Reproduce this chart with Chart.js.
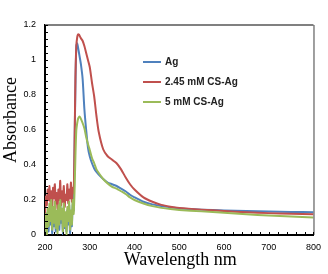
<!DOCTYPE html>
<html>
<head>
<meta charset="utf-8">
<script src="https://cdn.jsdelivr.net/npm/chart.js@4.4.0/dist/chart.umd.min.js"></script>
<style>
  html, body { margin: 0; padding: 0; background: #fff; }
  #wrap { width: 328px; height: 274px; }
</style>
</head>
<body>
<div id="wrap"><canvas id="uvChart"></canvas></div>
<script>
// wavelengths (nm)
var wavelengths = [200,202,204,206,208,210,212,214,216,218,220,222,224,226,228,230,232,234,236,238,240,242,244,246,248,250,252,254,256,258,260,262,264,
  266,268,270,272,274,276,278,280,284,288,292,296,300,305,310,315,320,330,340,350,360,370,380,390,400,420,440,460,480,500,550,600,650,700,750,800];

var agValues = [0.0,0.1,0.03,0.13,0.02,0.15,0.06,0.17,0.01,0.14,0.05,0.16,0.02,0.12,0.04,0.15,0.03,0.18,0.07,0.13,0.0,0.16,0.04,0.11,0.02,0.14,0.06,0.17,0.01,0.12,0.05,0.18,0.14,
  0.5,0.85,1.08,1.095,1.07,1.04,1.01,0.98,0.895,0.72,0.6,0.5,0.45,0.41,0.38,0.36,0.345,0.32,0.30,0.29,0.28,0.265,0.25,0.23,0.215,0.19,0.175,0.165,0.158,0.152,0.145,0.14,0.137,0.134,0.132,0.13];

var cs245Values = [0.12,0.22,0.17,0.26,0.2,0.28,0.19,0.25,0.16,0.27,0.21,0.29,0.18,0.24,0.15,0.26,0.2,0.31,0.17,0.25,0.19,0.28,0.16,0.23,0.2,0.29,0.18,0.26,0.21,0.3,0.19,0.27,0.24,
  0.5,0.9,1.08,1.13,1.147,1.145,1.135,1.125,1.11,1.08,1.04,1.0,0.96,0.87,0.79,0.68,0.59,0.49,0.45,0.43,0.41,0.375,0.33,0.29,0.26,0.215,0.19,0.172,0.162,0.155,0.145,0.137,0.13,0.125,0.121,0.118];

var cs5Values = [0.02,0.12,0.0,0.15,0.05,0.18,0.08,0.2,0.03,0.16,0.07,0.19,0.04,0.14,0.01,0.17,0.06,0.2,0.09,0.15,0.02,0.18,0.05,0.13,0.0,0.16,0.08,0.19,0.03,0.14,0.06,0.2,0.12,
  0.25,0.45,0.6,0.64,0.665,0.675,0.675,0.665,0.64,0.61,0.56,0.52,0.486,0.44,0.41,0.375,0.355,0.32,0.295,0.275,0.265,0.25,0.235,0.215,0.2,0.18,0.165,0.155,0.148,0.143,0.135,0.127,0.118,0.112,0.106,0.1];

var seriesNames = ["Ag", "2.45 mM CS-Ag", "5 mM CS-Ag"];
var seriesColors = ["#4F81BD", "#C0504D", "#9BBB59"];

function toPoints(vals){
    var pts = [];
    for(var i = 0; i < wavelengths.length; i++){
        pts.push({x: wavelengths[i], y: vals[i]});
    }
    return pts;
}

// frame, inner ticks, axis titles and legend
var decorPlugin = {
    id: "decor",
    afterDraw: function(chart){
        var ctx = chart.ctx;
        var a = chart.chartArea;
        var xs = chart.scales.x, ys = chart.scales.y;
        ctx.save();

        // top + right border
        ctx.strokeStyle = "#808080";
        ctx.lineWidth = 2;
        ctx.beginPath();
        ctx.moveTo(a.left, a.top);
        ctx.lineTo(a.right, a.top);
        ctx.stroke();
        ctx.strokeStyle = "#404040";
        ctx.lineWidth = 1;
        ctx.beginPath();
        ctx.moveTo(a.right + 0.5, a.top);
        ctx.lineTo(a.right + 0.5, a.bottom);
        ctx.stroke();

        // ticks pointing inward
        ctx.strokeStyle = "#000";
        ctx.lineWidth = 1;
        ctx.beginPath();
        for(var w = 200; w <= 800; w += 20){
            var px = Math.round(xs.getPixelForValue(w)) + 0.5;
            ctx.moveTo(px, a.bottom);
            ctx.lineTo(px, a.bottom - 3);
        }
        for(var k = 0; k <= 30; k++){
            var py = Math.round(ys.getPixelForValue(k * 0.04)) + 0.5;
            ctx.moveTo(a.left, py);
            ctx.lineTo(a.left + 3, py);
        }
        ctx.stroke();

        // axis titles
        ctx.fillStyle = "#000";
        ctx.font = "18px 'Liberation Serif', 'Times New Roman', serif";
        ctx.textAlign = "center";
        ctx.textBaseline = "alphabetic";
        ctx.fillText("Wavelength nm", (a.left + a.right) / 2 + 1, 265);
        ctx.translate(16, 120);
        ctx.rotate(-Math.PI / 2);
        ctx.fillText("Absorbance", 0, 0);
        ctx.setTransform(1, 0, 0, 1, 0, 0);

        // legend
        ctx.font = "bold 10px 'Liberation Sans', Arial, sans-serif";
        ctx.textAlign = "left";
        ctx.textBaseline = "middle";
        for(var i = 0; i < seriesNames.length; i++){
            var ly = 62 + i * 20;
            ctx.strokeStyle = seriesColors[i];
            ctx.lineWidth = 2;
            ctx.beginPath();
            ctx.moveTo(143, ly);
            ctx.lineTo(161, ly);
            ctx.stroke();
            ctx.fillStyle = "#222";
            ctx.fillText(seriesNames[i], 165, ly);
        }
        ctx.restore();
    }
};

var drawOrder = [2, 1, 0];
var datasets = [];
for(var i = 0; i < seriesNames.length; i++){
    datasets.push({
        label: seriesNames[i],
        data: toPoints([agValues, cs245Values, cs5Values][i]),
        borderColor: seriesColors[i],
        borderWidth: 2,
        pointRadius: 0,
        tension: 0.25,
        fill: false,
        order: drawOrder[i]
    });
}

var tickFont = { family: "'Liberation Sans', Arial, sans-serif", size: 9 };

new Chart(document.getElementById("uvChart"), {
    type: "line",
    data: { datasets: datasets },
    options: {
        responsive: true,
        maintainAspectRatio: false,
        animation: false,
        layout: { padding: { left: 0, top: 25, right: 13, bottom: 0 } },
        plugins: {
            legend: { display: false },
            tooltip: { enabled: false }
        },
        scales: {
            x: {
                type: "linear",
                min: 200,
                max: 800,
                ticks: { stepSize: 100, color: "#000", font: tickFont, padding: 7, maxRotation: 0 },
                grid: { display: true, drawOnChartArea: false, drawTicks: false },
                border: { color: "#000", width: 2 },
                afterFit: function(s){ s.height = 39; }
            },
            y: {
                min: 0,
                max: 1.2,
                ticks: {
                    stepSize: 0.2, color: "#000", font: tickFont, padding: 9,
                    callback: function(v){ return String(Math.round(v * 10) / 10); }
                },
                grid: { display: true, drawOnChartArea: false, drawTicks: false },
                border: { color: "#000", width: 2 },
                afterFit: function(s){ s.width = 45; }
            }
        }
    },
    plugins: [decorPlugin]
});
</script>
</body>
</html>
